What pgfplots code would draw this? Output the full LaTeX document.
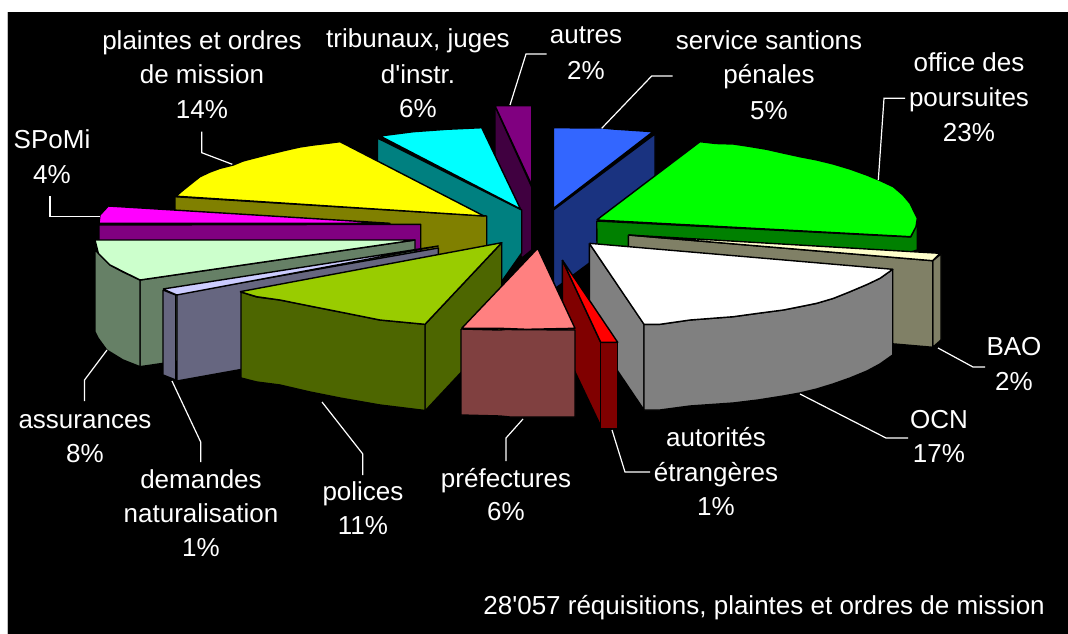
\documentclass[border=0pt]{standalone}
\usepackage{fontspec}
\newfontfamily\lsans{Liberation Sans}
\usepackage{pgfplots}
\pgfplotsset{compat=1.18}
\definecolor{cblueT}{HTML}{3366FF}\definecolor{cblueS}{HTML}{1A3380}
\definecolor{cgreenT}{HTML}{00FF00}\definecolor{cgreenS}{HTML}{008000}
\definecolor{ccreamT}{HTML}{FFFFCC}\definecolor{ccreamS}{HTML}{808066}
\definecolor{cgreyS}{HTML}{808080}
\definecolor{credT}{HTML}{FF0000}\definecolor{credS}{HTML}{800000}
\definecolor{cpinkT}{HTML}{FF8080}\definecolor{cpinkS}{HTML}{804040}
\definecolor{climeT}{HTML}{99CC00}\definecolor{climeS}{HTML}{4D6600}
\definecolor{cperiT}{HTML}{CCCCFF}\definecolor{cperiS}{HTML}{666680}
\definecolor{cmintT}{HTML}{CCFFCC}\definecolor{cmintS}{HTML}{668066}
\definecolor{cmagT}{HTML}{FF00FF}\definecolor{cmagS}{HTML}{800080}
\definecolor{cyelT}{HTML}{FFFF00}\definecolor{cyelS}{HTML}{808000}
\definecolor{ccyanT}{HTML}{00FFFF}\definecolor{ccyanS}{HTML}{008080}
\definecolor{cpurT}{HTML}{800080}\definecolor{cpurS}{HTML}{400040}
\pgfplotsset{
 face/.style={draw=black,line width=1.4pt,line join=round,fill=#1,no markers,sharp plot},
 lead/.style={draw=white,line width=1.2pt,no markers,sharp plot,line join=miter},
}
\tikzset{lab/.style={text=white,anchor=base,inner sep=0pt,font=\fontsize{26}{28}\selectfont\lsans}}
\begin{document}
\begin{tikzpicture}
\begin{axis}[at={(0,0)},anchor=south west,scale only axis,width=1068pt,height=634pt,
 xmin=0,xmax=1068,ymin=0,ymax=634,y dir=reverse,hide axis,clip=true]
% page and background
\addplot[draw=none,fill=white,no markers] coordinates {(0,0)(1068,0)(1068,634)(0,634)};
\addplot[draw=none,fill=black!25,no markers] coordinates {(7,12)(1068,12)(1068,634)(7,634)};
\addplot[draw=none,fill=black,no markers] coordinates {(8,12)(1068,12)(1068,634)(8,634)};
% autres
\addplot[face=cpurS] coordinates {(495,106)(531.7,187)(531.7,250)(522,258)(495,200)(495,106)};
\addplot[face=cpurT] coordinates {(495,105.7)(531.7,105.7)(531.7,185)(495,105.7)};
% service
\addplot[face=cblueS] coordinates {(553.3,210)(655,134)(655,214)(553.3,290)(553.3,210)};
\addplot[face=cblueT] coordinates {(553.3,127.7)(603,128)(613,129)(653,131.7)(553.3,208.5)(553.3,127.7)};
% tribunaux
\addplot[face=ccyanS] coordinates {(377.3,138)(521.7,210)(521.7,253)(502,281)(377.3,224)(377.3,138)};
\addplot[face=ccyanT] coordinates {(380,136)(413.3,131.7)(446.7,129.3)(481.7,127.7)(520.5,209)(380,136)};
% plaintes
\addplot[face=cyelS] coordinates {(175,196.7)(486.7,216)(486.7,302)(175,283)(175,196.7)};
\addplot[face=cyelT] coordinates {(176,196.2)(183.3,190)(192,183)(200,176.7)(210,172)(220,168.3)(233.3,165)(243,161)(253.3,158.3)(270,154)(286.7,150)(300,147)(313.3,145)(326,143.5)(340,141.7)(484,216)(176,196.2)};
% SPoMi
\addplot[face=cmagS] coordinates {(99,225)(420.7,224.3)(420.7,310)(99,311)(99,225)};
\addplot[face=cmagT] coordinates {(108.3,206)(390,223.3)(99,223.3)(100,215)(108.3,206)};
% assurances
\addplot[face=cmintS] coordinates {(140,280)(415,240)(415,326.7)(140,366.7)(140,280)};
\addplot[face=cmintS] coordinates {(95,250)(98,253)(110,265)(123,272)(140,280)(140,366.7)(123,360)(106.7,350)(98,338)(95,332)(95,250)};
\addplot[face=cmintT] coordinates {(95,240)(415,240)(140,280)(123.3,271.7)(110,265)(98.3,253.3)(95,240)};
% demandes
\addplot[face=cperiS] coordinates {(177,294)(438.3,248)(438.3,334)(177,381)(177,294)};
\addplot[face=cperiS] coordinates {(163,290)(175.7,295)(175.7,380)(163,375)(163,290)};
\addplot[face=cperiT] coordinates {(163,289)(438.3,246)(176.7,295)(163,289)};
% polices
\addplot[face=climeS] coordinates {(425,324.3)(501.7,242.7)(501.7,329)(425,411)(425,324.3)};
\addplot[face=climeS] coordinates {(241,292)(256.7,297)(280,300)(313.3,306.7)(346.7,313.3)(380,320)(425,324.3)(425,410.5)(380,405)(340,398)(310,392)(280,385)(256.7,382)(241,378)(241,292)};
\addplot[face=climeT] coordinates {(240,291.7)(501.7,242.7)(425,324.3)(380,320)(346.7,313.3)(313.3,306.7)(280,300)(256.7,296.7)(240,291.7)};
% office
\addplot[face=cgreenS] coordinates {(596.7,221)(910.7,237)(917.3,223)(917.3,250)(910.7,252)(597,246)(596.7,221)};
\addplot[face=cgreenT] coordinates {(596.7,220)(700,141.7)(716,143.5)(733.3,144)(750,146.5)(766.7,149.3)(783,153)(800,156.7)(817,160)(833.3,164)(850,169)(866.7,175)(880,180.5)(893.3,186.7)(903,195)(910,203.3)(917.3,218.3)(916,226.7)(910.7,236.7)(596.7,220)};
% BAO
\addplot[face=ccreamS] coordinates {(932.7,260.7)(941,254)(941,340)(932.7,347.3)(932.7,260.7)};
\addplot[face=ccreamS] coordinates {(628.3,235)(932.7,260.7)(932.7,347.3)(628.3,321)(628.3,235)};
\addplot[face=ccreamT] coordinates {(628.3,235)(940,253.3)(932.7,260.7)(628.3,235)};
% OCN
\addplot[face=cgreyS] coordinates {(589.3,243.3)(644,324)(644,410)(589.3,329)(589.3,243.3)};
\addplot[face=cgreyS] coordinates {(644,324.3)(660,324.3)(690,320)(733.3,316.7)(758,313.3)(783.3,310)(800,306.7)(816.7,303.3)(833,298.5)(850,291.7)(867,284.5)(880,278.3)(892.7,269.3)(892.7,355)(880,364)(867,371)(850,378)(833,384)(816.7,389)(800,393)(783.3,396)(758,400)(733.3,403)(690,406)(660,410)(644,410)(644,324.3)};
\addplot[face=white] coordinates {(589.3,243.3)(892.7,269.3)(880,278.3)(867,284.5)(850,291.7)(833,298.5)(816.7,303.3)(800,306.7)(783.3,310)(758,313.3)(733.3,316.7)(690,320)(660,324.3)(644,324.3)(589.3,243.3)};
% autorites
\addplot[face=credS] coordinates {(562.3,260)(600.7,342.3)(600.7,426)(562.3,345)(562.3,260)};
\addplot[face=credS] coordinates {(600.7,342.3)(617.7,342.3)(617.7,429)(600.7,429)(600.7,342.3)};
\addplot[face=credT] coordinates {(562.3,260)(617.7,342.3)(600.7,342.3)(562.3,260)};
% prefectures
\addplot[face=cpinkS] coordinates {(461,329)(500,330)(505,329.5)(575,330)(575,417)(510,417)(500,416)(461,415)(461,329)};
\addplot[face=cpinkT] coordinates {(537.7,248.3)(575,328.3)(526.7,329.3)(500,328.3)(461.7,328.3)(537.7,248.3)};
% leader lines
\addplot[lead] coordinates {(201.7,131.7)(201.7,152.7)(232.3,164.3)};
\addplot[lead] coordinates {(510,105)(526,54)(546.7,54)};
\addplot[lead] coordinates {(601.7,128.3)(651.7,76)(672.7,76)};
\addplot[lead] coordinates {(878.3,180)(884,98.3)(905,98.3)};
\addplot[lead] coordinates {(938,348)(973,367)(985,367)};
\addplot[lead] coordinates {(800,394)(886,438)(908,438)};
\addplot[lead] coordinates {(612,430)(625,472)(650,472)};
\addplot[lead] coordinates {(523,419)(506,438)(506,461)};
\addplot[lead] coordinates {(322,402)(362.8,454)(362.8,475)};
\addplot[lead] coordinates {(172,381)(200.7,442)(200.7,462)};
\addplot[lead] coordinates {(107,350)(84.5,380)(84.5,401)};
\addplot[lead] coordinates {(100,216.7)(50,216.7)(50,196)};
% labels
\node[lab] at (202,49) {plaintes et ordres};
\node[lab] at (202,84) {de mission};
\node[lab] at (202,118) {14\%};
\node[lab] at (418,48) {tribunaux, juges};
\node[lab] at (418,83) {d'instr.};
\node[lab] at (418,117) {6\%};
\node[lab] at (586,44) {autres};
\node[lab] at (586,79) {2\%};
\node[lab] at (769,50) {service santions};
\node[lab] at (769,84) {pénales};
\node[lab] at (769,119) {5\%};
\node[lab] at (969,72) {office des};
\node[lab] at (969,106) {poursuites};
\node[lab] at (969,141) {23\%};
\node[lab] at (52,148) {SPoMi};
\node[lab] at (52,183) {4\%};
\node[lab] at (1014,355) {BAO};
\node[lab] at (1014,390) {2\%};
\node[lab] at (939,428) {OCN};
\node[lab] at (939,462) {17\%};
\node[lab] at (716,446) {autorités};
\node[lab] at (716,481) {étrangères};
\node[lab] at (716,515) {1\%};
\node[lab] at (506,487) {préfectures};
\node[lab] at (506,520) {6\%};
\node[lab] at (363,500) {polices};
\node[lab] at (363,534) {11\%};
\node[lab] at (201,488) {demandes};
\node[lab] at (201,522) {naturalisation};
\node[lab] at (201,556) {1\%};
\node[lab] at (85,428) {assurances};
\node[lab] at (85,462) {8\%};
\node[lab,anchor=base east] at (1045,614) {28'057 réquisitions, plaintes et ordres de mission};
\end{axis}
\end{tikzpicture}
\end{document}
